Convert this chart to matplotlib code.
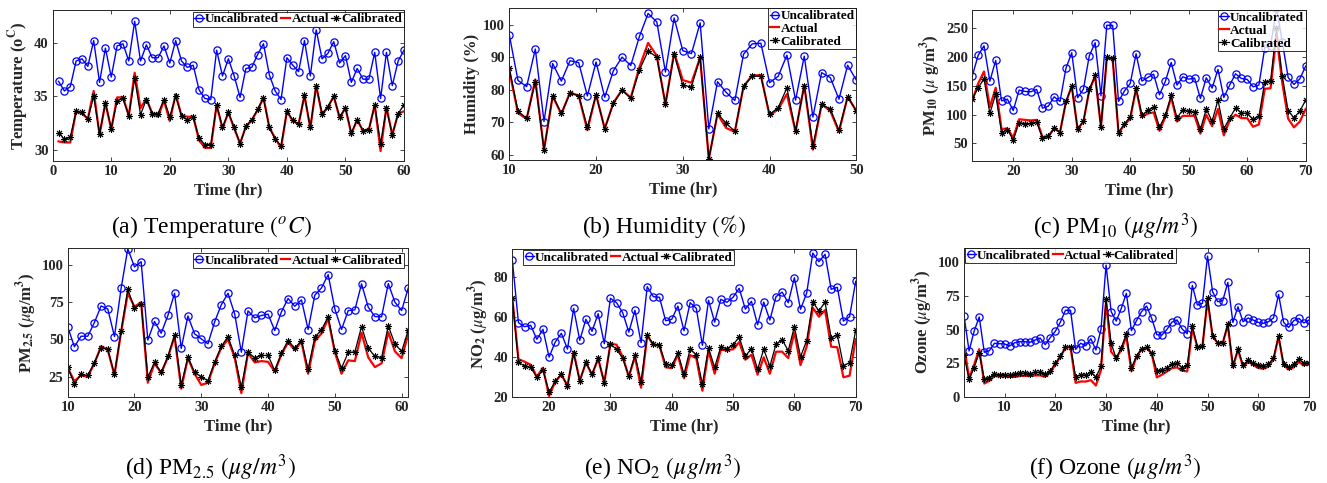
import matplotlib
matplotlib.use("Agg")
import matplotlib.pyplot as plt
import numpy as np

plt.rcParams['font.family'] = ['Liberation Serif', 'DejaVu Serif']
plt.rcParams['mathtext.fontset'] = 'stix'

# ---------------- data ----------------
x_a = list(range(1, 61))
unc_a = [36.4,35.5,35.9,38.3,38.5,37.8,40.2,36.3,39.5,36.8,39.7,39.9,38.3,42.0,38.3,39.8,38.6,38.6,39.7,38.1,
         40.2,38.3,37.7,37.9,35.6,34.8,34.7,39.3,36.9,38.5,36.9,34.9,37.6,37.7,38.9,39.9,37.0,35.5,34.7,38.6,
         37.9,37.3,40.2,36.9,41.2,38.5,39.0,40.1,38.1,38.8,36.3,37.6,36.6,36.6,39.1,34.8,39.1,36.0,38.3,39.3]
act_a = [30.8,30.7,30.7,33.6,33.4,32.9,35.5,31.4,34.4,31.9,34.9,34.9,33.2,37.2,33.9,34.8,33.4,33.1,34.6,32.7,
         35.2,33.2,33.1,33.1,30.9,30.2,30.2,34.2,32.0,33.5,32.0,30.6,32.2,32.8,33.7,34.9,32.1,31.1,30.2,33.6,
         32.7,32.4,35.1,32.0,36.0,33.3,34.0,35.0,33.0,33.9,31.5,32.8,31.8,31.9,34.2,29.9,34.0,31.4,33.4,33.6]
cal_a = [31.6,31.0,31.2,33.6,33.5,32.9,35.0,31.5,34.4,32.0,34.6,34.8,33.2,36.7,33.3,34.7,33.4,33.4,34.7,33.1,
         35.0,33.2,32.8,33.1,31.1,30.5,30.5,34.2,32.1,33.5,32.1,30.6,32.2,32.8,33.8,34.8,32.1,31.0,30.4,33.6,
         32.8,32.4,35.1,32.1,36.0,33.4,34.0,35.0,33.1,33.9,31.6,32.8,31.8,31.9,34.2,30.6,33.9,31.4,33.4,34.2]

x_b = list(range(10, 51))
unc_b = [97.0,82.9,81.0,92.6,70.2,88.1,82.7,89.0,88.4,78.1,88.6,77.7,85.9,90.1,87.5,96.5,103.6,101.0,85.5,102.2,
         92.1,91.2,100.7,67.9,82.5,79.2,76.7,91.0,94.2,94.4,82.2,84.2,90.7,76.8,90.4,71.6,85.3,83.8,77.1,87.6,83.0]
act_b = [86.0,72.8,71.0,83.2,61.5,78.0,72.5,79.2,78.2,67.5,78.5,68.0,76.0,80.0,77.5,87.0,94.5,90.5,75.5,91.5,
         83.0,82.2,90.0,58.6,72.5,68.2,67.0,81.0,84.5,84.5,72.0,74.0,78.7,67.0,81.5,61.5,75.5,73.5,67.0,77.8,73.5]
cal_b = [86.6,73.4,71.2,82.5,61.3,78.2,72.7,78.9,78.2,68.4,78.5,67.9,75.8,79.9,77.4,86.1,92.0,90.1,75.6,91.0,
         81.4,80.9,90.0,58.6,72.7,69.6,67.2,81.1,84.2,84.2,72.4,74.5,80.6,67.2,81.3,62.7,75.5,74.1,67.5,77.9,73.5]

x_c = list(range(13, 71))
unc_c = [167.6,203,219.8,158.3,194.3,124.1,127.0,107.3,142.7,140.4,139.8,143.9,111.4,114.9,131.1,123,180.4,207.7,
         129.4,144.4,202.4,225.1,132.8,255.5,255.2,123,141,154.3,205.9,158.4,164.7,170.5,134.6,157.8,190.8,151.4,
         165.9,161.8,163.6,128.2,164.2,146.2,178.7,129.9,151.4,171.1,163,161.3,148.5,151.4,216.4,219.3,286,226.8,
         164.7,152.6,162.4,184.5]
act_c = [125,154,175,113,147,75,76,60,92,91,90,91,61,63,76,70,121,150,75,88,142,167,78,199,196,68,82,93,145,96,
         102,104,72,96,130,88,98,98,98,67,100,80,110,64,90,100,94,94,79,83,145,146,238,155,93,78,88,110]
cal_c = [127,146.8,162.4,102.1,135.7,69,74.2,55.7,86.4,84.1,84.7,87,59.7,62.1,76,69,123,149.1,75.4,88.2,143.9,
         168.2,78.3,200.7,198.4,69,84.1,96.3,146.2,99.2,107.3,112.5,78.3,98.6,133.4,94,109,105.6,104.4,74.8,109.6,
         88.8,125.3,75.4,94,111.4,103.3,102.1,91.7,96.9,157.2,158.9,250,167,106.7,94.6,106.2,125.3]

x_d = list(range(10, 62))
unc_d = [58.5,45.1,52.2,52.2,61.4,72.5,70.5,52,84.4,110.9,98.7,102.2,49.6,62.1,54.2,66.1,81.0,44,65.8,53.8,
         50.4,47.1,61.8,73.3,81.0,67.2,41.5,69.2,64.5,66.1,67,56,68.5,77.5,72.3,76.6,56.7,79.7,84.6,93.5,
         70.5,56.7,69.4,69.9,87.3,71.7,65.4,65.2,87.5,75,69.4,84.6]
act_d = [31,22,26,25,34,45.5,43,26,55,81,72,75,21,34,27.5,38,52,17,37.5,27,19.5,21,34,44.5,50,38,14,41,34.6,35.5,
         35,28.5,40,48,43,48.5,27,49,54,64,41.5,27,36,35.5,54.5,38,31.5,34,55,42,37.5,53.6]
cal_d = [31.3,20.3,26.6,25.9,34.4,44.6,43.3,26.6,56,83.7,70.8,74.1,24.8,34.6,27.9,38.6,52.9,19.4,38.2,27.9,
         25,22.3,34.8,45.3,52,39.3,17.9,41.5,37.7,39.3,39.3,29.2,40.8,49.3,44.2,49.3,30.1,51.6,56.5,65.2,
         42.6,30.8,41.3,41.7,58.7,44.2,38.6,37.9,59.2,46.9,42,56.3]

x_e = list(range(14, 71))
unc_e = [88.5,57,55,55.7,48.7,53.7,39.8,47.3,51.7,43.8,64.2,48.2,58.7,52.7,61.5,46.5,69.2,67,62,52.3,63.2,47,75,
         70,69.7,58,58.7,65.3,53,67,64.2,45.7,68.2,57.3,68.7,67.2,69.7,74.2,63.8,67.7,56,67.3,58.3,70,72.3,67,
         79.5,63.7,71.7,91.8,87.5,91.2,73.7,74.7,57.8,60,77.7]
act_e = [69.5,38.8,37.5,36,30,34.5,20.3,27.5,31,25.5,42.5,28,37,31,39,27,46.5,46,40,30,40,24.5,50.5,46,45.5,34.7,
         34.3,41,29.2,40.8,39.3,23,43,31.5,43.5,43.3,43.7,47.3,38.5,41,31,39.7,31.5,42.5,42.5,39.3,52.2,35.8,45,
         64.5,60,63.3,45,44.7,29.7,30.5,48.8]
cal_e = [69.5,37.2,35.3,34.7,29.7,33.3,22.3,27.7,31.3,25.3,41.7,27.8,37.3,31.3,39.2,27,46.3,43.7,39.2,30.3,40.7,
         27.5,50.8,46.2,45.8,36.3,35.7,41.7,31.3,43.8,41,26.3,44.3,34.7,45,44,46,49.8,40.3,44,33.7,43.7,35.2,46.2,
         48.5,43,55,40,48,67.2,63,67.2,49.5,51,35.5,37,53.2]

x_f = list(range(2, 71))
unc_f = [60.4,34.2,49,59.4,33.2,34.4,39.9,39.6,39.4,37.9,40.3,41.1,41.1,40.6,42.3,43.8,38.9,44.1,48.8,55.7,64.4,
         64.4,35.4,39.9,38.1,43.3,34.9,50.2,98,63.4,56.4,65.8,77,49.3,56.7,63.4,67.6,58.4,46.3,46,50.2,55.7,57.2,
         50.5,47,82.9,68.3,69.6,104.7,78.2,70.8,71.5,85.1,55.4,67,55.9,58.7,57.2,55.4,54.7,55.9,58.7,76.2,55.4,
         51.7,56.7,58.4,55,57.2]
act_f = [38.4,14,24,35.5,10,12,15.5,15.5,15.5,15,15,15.5,15.8,15.5,16,16,15,18,24,30,36.5,37,10.5,11.5,11.5,12.5,
         8.5,20,71,33.6,29,35,45,19,30,35.5,36.5,32,14.6,16.5,19,21.5,22,19.5,19,51,37,37.5,72,45,40,40,53.5,22,
         35,22.5,26,24,21.5,21,22.5,28,45,23.5,20.5,22,26,23.5,25]
cal_f = [30.9,13.1,21.8,32.9,13.1,14.4,17.3,16.6,16.6,16.1,17.1,17.6,17.8,17.3,18.3,18.3,16.8,19.3,25.2,30.2,36.9,
         37.4,15.1,16.6,16.3,18.6,14.6,23,72.8,39.9,28.7,36.6,46.8,21.8,30.4,35.9,36.9,32.4,19.6,20,21.8,24.3,25,
         21.8,23.5,52.7,37.4,37.9,73.8,45.5,40.3,40.3,54.2,23.8,35.4,24,27.2,25,23.8,23.3,24.5,28.7,45.3,24.3,22,
         24.3,28.2,25,25.5]

ylabels = [r'Temperature (o$^{\mathbf{C}}$)', 'Humidity (%)', r'PM$_{\mathbf{10}}$ ($\mu$ g/m$^{\mathbf{3}}$)',
           r'PM$_{\mathbf{2.5}}$ ($\mu$g/m$^{\mathbf{3}}$)', r'NO$_{\mathbf{2}}$ ($\mu$g/m$^{\mathbf{3}}$)',
           r'Ozone ($\mu$g/m$^{\mathbf{3}}$)']
captions = [r'(a) Temperature $(^{o}C)$', r'(b) Humidity $(\%)$', r'(c) PM$_{10}$ $(\mu g/m^3)$',
            r'(d) PM$_{2.5}$ $(\mu g/m^3)$', r'(e) NO$_2$ $(\mu g/m^3)$', r'(f) Ozone $(\mu g/m^3)$']
labels = ['Uncalibrated', 'Actual', 'Calibrated']

# ---------------- layout ----------------
W, H = 1327, 483
fig = plt.figure(figsize=(W / 100, H / 100), dpi=100)

def px_axes(l, r, t, b):
    return fig.add_axes([l / W, 1 - b / H, (r - l) / W, (b - t) / H])

boxes = [(52.7, 404, 10, 160.7), (509.3, 856.3, 8.3, 160), (972.3, 1305.7, 10, 160.7),
         (67.7, 408.3, 248.3, 397.3), (512.3, 855.7, 249.3, 397.3), (964, 1309, 247.7, 397)]
xs = [x_a, x_b, x_c, x_d, x_e, x_f]
uncs = [unc_a, unc_b, unc_c, unc_d, unc_e, unc_f]
acts = [act_a, act_b, act_c, act_d, act_e, act_f]
cals = [cal_a, cal_b, cal_c, cal_d, cal_e, cal_f]
xlims = [(0, 60), (10, 50), (13, 70), (10, 61), (14, 70), (2, 70)]
ylims = [(29, 43.05), (58.3, 105.2), (20, 282), (11.2, 111.2), (19.7, 93.7), (0, 110.9)]
xticks = [range(0, 61, 10), range(10, 51, 10), range(20, 71, 10), range(10, 61, 10), range(20, 71, 10), range(10, 71, 10)]
yticks = [[30, 35, 40], range(60, 101, 10), range(50, 251, 50), [25, 50, 75, 100], [20, 40, 60, 80], [0, 25, 50, 75, 100]]
leg_cfg = [dict(loc='upper right', bbox_to_anchor=(1.0, 0.99), ncol=3),
           dict(loc='upper right', bbox_to_anchor=(1.0, 1.0), ncol=1),
           dict(loc='upper right', bbox_to_anchor=(1.0, 1.0), ncol=1),
           dict(loc='upper right', bbox_to_anchor=(0.987, 0.968), ncol=3),
           dict(loc='upper left', bbox_to_anchor=(0.031, 0.995), ncol=3),
           dict(loc='upper left', bbox_to_anchor=(0.003, 0.998), ncol=3)]
cap_pos = [(211, 227), (664, 227), (1116, 227), (211, 468), (663, 468), (1115, 468)]

axcol = '#262626'
star = (8, 2, 0)

for i in range(6):
    ax = px_axes(*boxes[i])
    ax.plot(xs[i], uncs[i], color='blue', lw=1.0, marker='o', ms=5.2, mfc='none', mec='blue', mew=0.9,
            label=labels[0])
    ax.plot(xs[i], acts[i], color='red', lw=1.6, label=labels[1])
    ax.plot(xs[i], cals[i], color='black', lw=0.9, marker=star, ms=5, mec='black', mew=0.7,
            label=labels[2])
    ax.set_xlim(*xlims[i])
    ax.set_ylim(*ylims[i])
    ax.set_xticks(list(xticks[i]))
    ax.set_yticks(list(yticks[i]))
    ax.tick_params(direction='in', top=True, right=True, length=3, width=0.6, colors=axcol,
                   labelsize=10.5, pad=3)
    for lab in ax.get_xticklabels() + ax.get_yticklabels():
        lab.set_fontweight('bold')
    for sp in ax.spines.values():
        sp.set_color(axcol)
        sp.set_linewidth(0.7)
    ax.set_xlabel('Time (hr)', fontsize=12, fontweight='bold', color=axcol, labelpad=3)
    ax.set_ylabel(ylabels[i], fontsize=12, fontweight='bold', color=axcol, labelpad=2)
    leg = ax.legend(prop={'weight': 'bold', 'size': 9.5}, frameon=True, fancybox=False,
                    edgecolor='black', borderpad=0.12, handlelength=0.7, handletextpad=0.1,
                    columnspacing=0.15, labelspacing=0.05, borderaxespad=0, **leg_cfg[i])
    leg.get_frame().set_linewidth(0.7)
    cx, cy = cap_pos[i]
    fig.text(cx / W, 1 - cy / H, captions[i], ha='center', va='center', fontsize=17, color='black')

fig.savefig('out.png', dpi=100)
